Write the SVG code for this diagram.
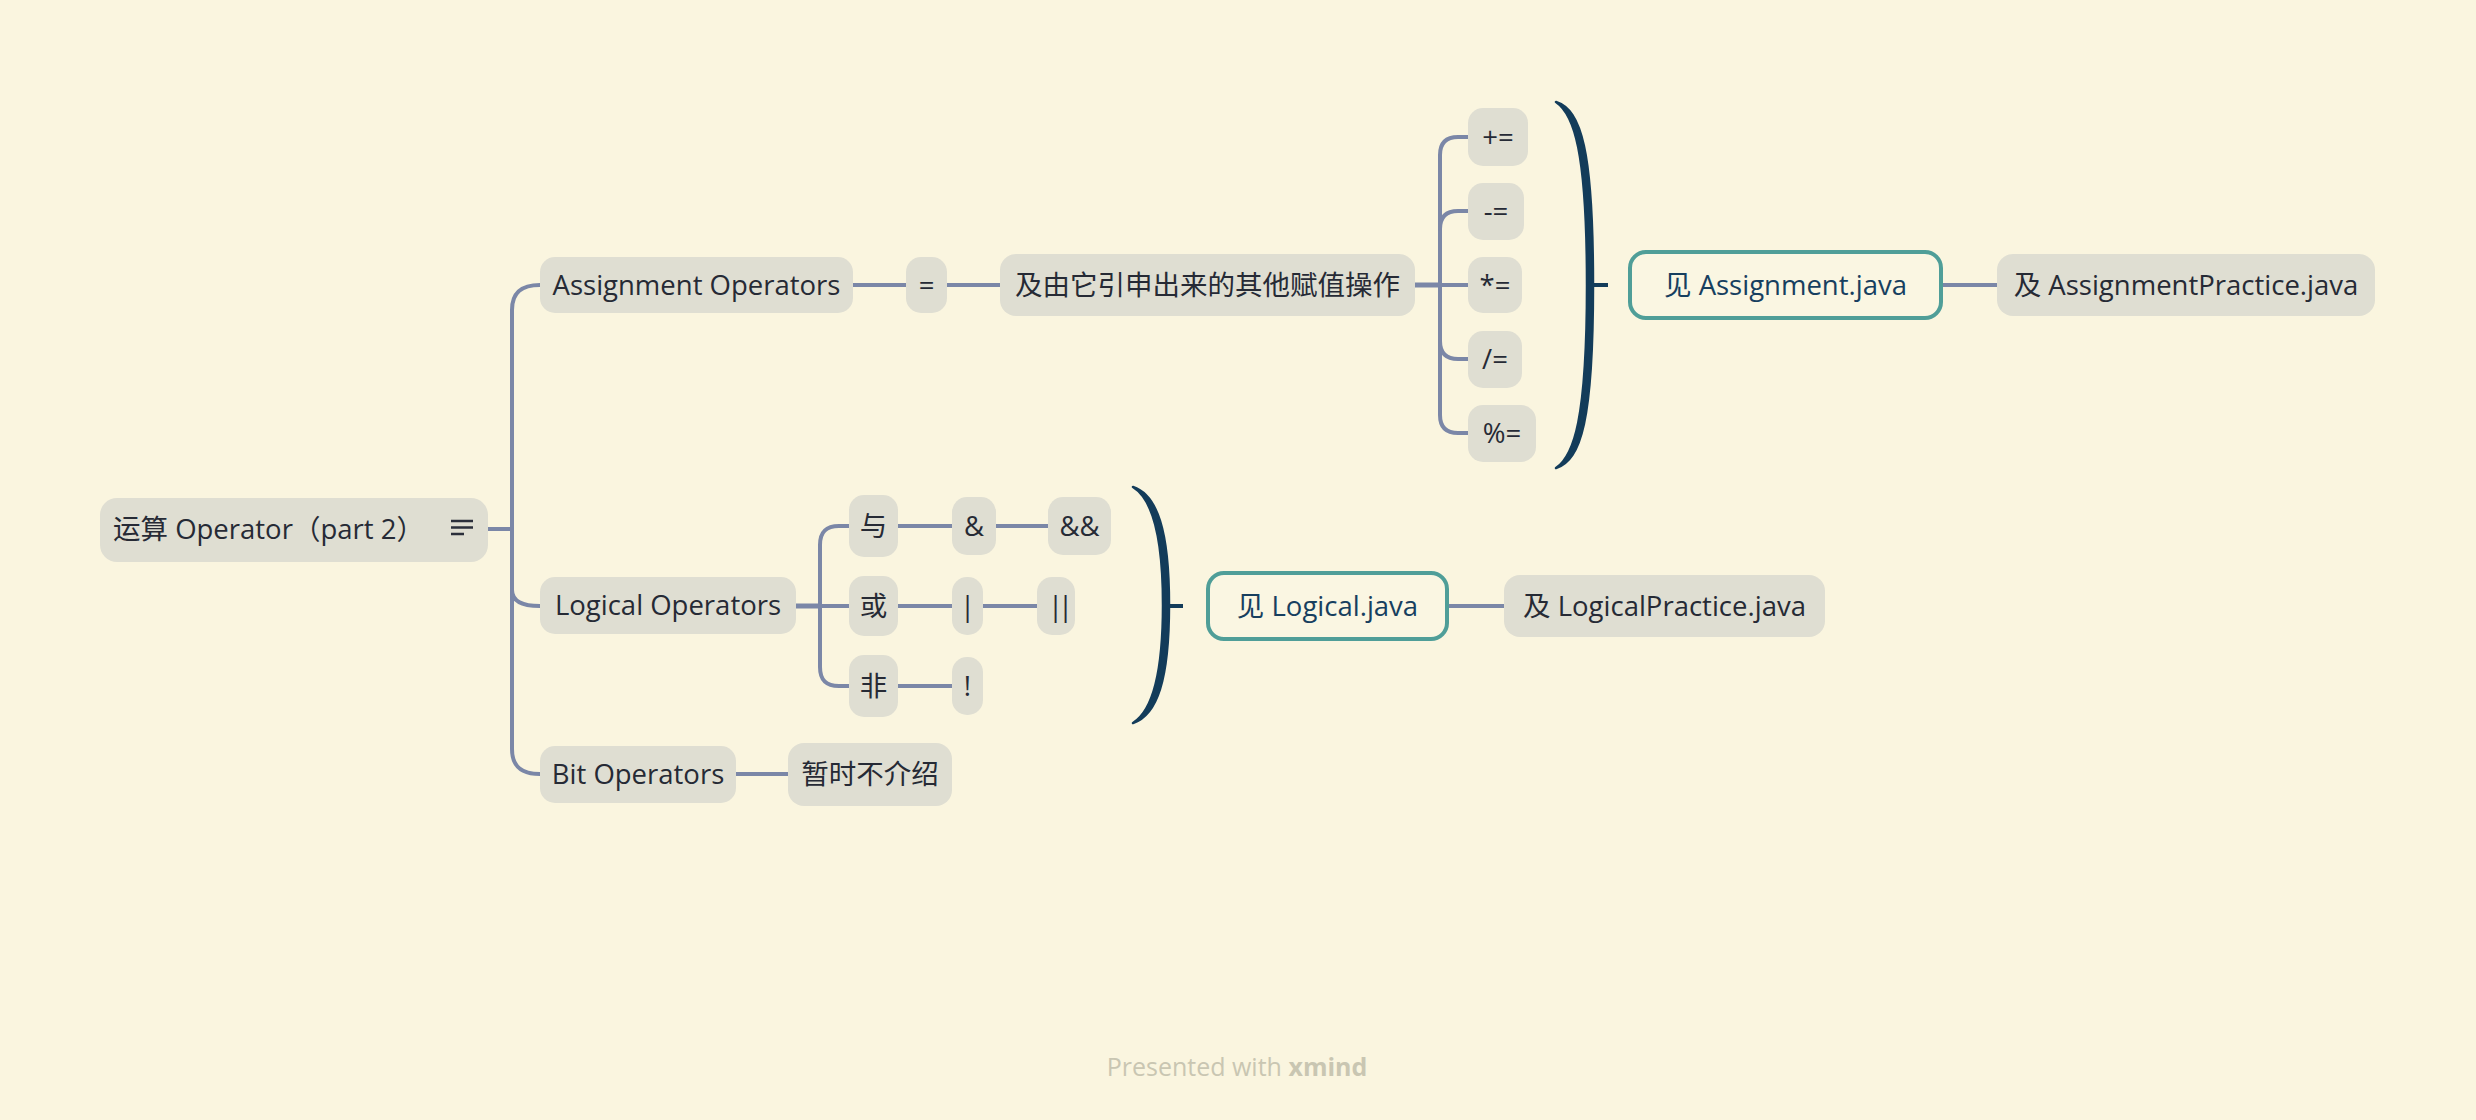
<svg xmlns="http://www.w3.org/2000/svg" width="2476" height="1120" viewBox="0 0 2476 1120">
<style>
.bg{fill:#FAF5DF}
.n{fill:#DFDED2}
.t{font-family:"Open Sans","Noto Sans CJK SC",sans-serif;font-size:27.5px;fill:#262A35;text-anchor:middle}
.lt{font-family:"Open Sans","Noto Sans CJK SC",sans-serif;font-size:27.5px;fill:#173F5F;text-anchor:middle}
.c{fill:none;stroke:#7B87A7;stroke-width:4;stroke-linecap:round;stroke-linejoin:round}
.b{fill:#133C5A;stroke:#133C5A;stroke-width:2.5;stroke-linejoin:round}
.tick{stroke:#133C5A;stroke-width:4;fill:none}
.link{fill:#FAF6E2;stroke:#4F9E98;stroke-width:4}
.ft{font-family:"Open Sans",sans-serif;font-size:25px;fill:#C9C6B2;text-anchor:middle}
</style>
<rect class="bg" x="0" y="0" width="2476" height="1120"/>
<g id="connectors">
<path class="c" d="M488,529 H512"/>
<path class="c" d="M540,285 C522,285 512,292 512,310 V749 C512,767 522,774 540,774"/>
<path class="c" d="M512,529 V590 C512,600 520,606 540,606"/>
<path class="c" d="M853,285 H906"/>
<path class="c" d="M947,285 H1000"/>
<path class="c" style="stroke-width:5" d="M1415,285 H1440"/>
<path class="c" d="M1468,137 H1458 C1446,137 1440,143 1440,155 V415 C1440,427 1446,433 1458,433 H1468"/>
<path class="c" d="M1468,211 H1458 C1446,211 1440,217 1440,229"/>
<path class="c" d="M1440,341 C1440,353 1446,359 1458,359 H1468"/>
<path class="c" d="M1440,285 H1468"/>
<path class="c" d="M1943,285 H1997"/>
<path class="c" style="stroke-width:5" d="M796,606 H820"/>
<path class="c" d="M849,526 H839 C826,526 820,532 820,545 V667 C820,680 826,686 839,686 H849"/>
<path class="c" d="M820,606 H849"/>
<path class="c" d="M898,526 H952"/>
<path class="c" d="M996,526 H1048"/>
<path class="c" d="M898,606 H952"/>
<path class="c" d="M983,606 H1037"/>
<path class="c" d="M898,686 H952"/>
<path class="c" d="M1449,606 H1504"/>
<path class="c" d="M736,774 H788"/>
</g>
<g id="brace-assignment">
<path class="b" d="M1556,102 C1581,110 1593,150 1593,285 C1593,420 1581,460 1556,468 C1574,456 1587,420 1587,285 C1587,150 1574,114 1556,102 Z"/>
<path class="tick" d="M1590,285 H1608"/>
</g>
<g id="brace-logical">
<path class="b" d="M1133,487 C1157,495 1169,530 1169,605 C1169,680 1157,715 1133,723 C1151,712 1163,680 1163,605 C1163,530 1151,498 1133,487 Z"/>
<path class="tick" d="M1166,606 H1183"/>
</g>
<g id="root">
<rect class="n" x="100" y="498" width="388" height="64" rx="17"/>
<text class="t" x="113" y="539" style="text-anchor:start">运算 Operator（part 2）</text>
<path d="M451,521 H473 M451,527.5 H473 M451,534 H464" stroke="#2B2F3B" stroke-width="2.6" fill="none"/>
</g>
<g id="assignment-operators">
<rect class="n" x="540" y="257" width="313" height="56" rx="15"/>
<text class="t" x="696.5" y="295">Assignment Operators</text>
</g>
<g id="eq">
<rect class="n" x="906" y="257" width="41" height="56" rx="15"/>
<text class="t" x="926.5" y="295">=</text>
</g>
<g id="other-assign">
<rect class="n" x="1000" y="254" width="415" height="62" rx="16"/>
<text class="t" x="1207.5" y="295">及由它引申出来的其他赋值操作</text>
</g>
<g id="plus-eq">
<rect class="n" x="1468" y="108" width="60" height="58" rx="15"/>
<text class="t" x="1498" y="147">+=</text>
</g>
<g id="minus-eq">
<rect class="n" x="1468" y="183" width="56" height="57" rx="15"/>
<text class="t" x="1496" y="221">-=</text>
</g>
<g id="times-eq">
<rect class="n" x="1468" y="257" width="54" height="56" rx="15"/>
<text class="t" x="1495" y="295">*=</text>
</g>
<g id="div-eq">
<rect class="n" x="1468" y="331" width="54" height="57" rx="15"/>
<text class="t" x="1495" y="369">/=</text>
</g>
<g id="mod-eq">
<rect class="n" x="1468" y="405" width="68" height="57" rx="15"/>
<text class="t" x="1502" y="443">%=</text>
</g>
<g id="assignment-java">
<rect class="link" x="1630" y="252" width="311" height="66" rx="16"/>
<text class="lt" x="1785.5" y="295">见 Assignment.java</text>
</g>
<g id="assignment-practice">
<rect class="n" x="1997" y="254" width="378" height="62" rx="16"/>
<text class="t" x="2186" y="295">及 AssignmentPractice.java</text>
</g>
<g id="logical-operators">
<rect class="n" x="540" y="577" width="256" height="57" rx="15"/>
<text class="t" x="668" y="615">Logical Operators</text>
</g>
<g id="and">
<rect class="n" x="849" y="495" width="49" height="62" rx="15"/>
<text class="t" x="873.5" y="536">与</text>
</g>
<g id="or">
<rect class="n" x="849" y="576" width="49" height="60" rx="15"/>
<text class="t" x="873.5" y="616">或</text>
</g>
<g id="not">
<rect class="n" x="849" y="655" width="49" height="62" rx="15"/>
<text class="t" x="873.5" y="696">非</text>
</g>
<g id="amp">
<rect class="n" x="952" y="497" width="44" height="58" rx="15"/>
<text class="t" x="974" y="536">&amp;</text>
</g>
<g id="ampamp">
<rect class="n" x="1048" y="497" width="63" height="58" rx="15"/>
<text class="t" x="1079.5" y="536">&amp;&amp;</text>
</g>
<g id="bar">
<rect class="n" x="952" y="577" width="31" height="58" rx="15"/>
<text class="t" x="967.5" y="616">|</text>
</g>
<g id="barbar">
<rect class="n" x="1037" y="577" width="38" height="58" rx="15"/>
<text class="t" x="1058" y="616" style="letter-spacing:-5px">||</text>
</g>
<g id="bang">
<rect class="n" x="952" y="657" width="31" height="58" rx="15"/>
<text class="t" x="967.5" y="696">!</text>
</g>
<g id="logical-java">
<rect class="link" x="1208" y="573" width="239" height="66" rx="16"/>
<text class="lt" x="1327.5" y="616">见 Logical.java</text>
</g>
<g id="logical-practice">
<rect class="n" x="1504" y="575" width="321" height="62" rx="16"/>
<text class="t" x="1664.5" y="616">及 LogicalPractice.java</text>
</g>
<g id="bit-operators">
<rect class="n" x="540" y="746" width="196" height="57" rx="15"/>
<text class="t" x="638" y="784">Bit Operators</text>
</g>
<g id="bit-note">
<rect class="n" x="788" y="743" width="164" height="63" rx="16"/>
<text class="t" x="870" y="784">暂时不介绍</text>
</g>
<text class="ft" x="1237" y="1076">Presented with <tspan style="font-weight:bold">xmind</tspan></text>
</svg>
